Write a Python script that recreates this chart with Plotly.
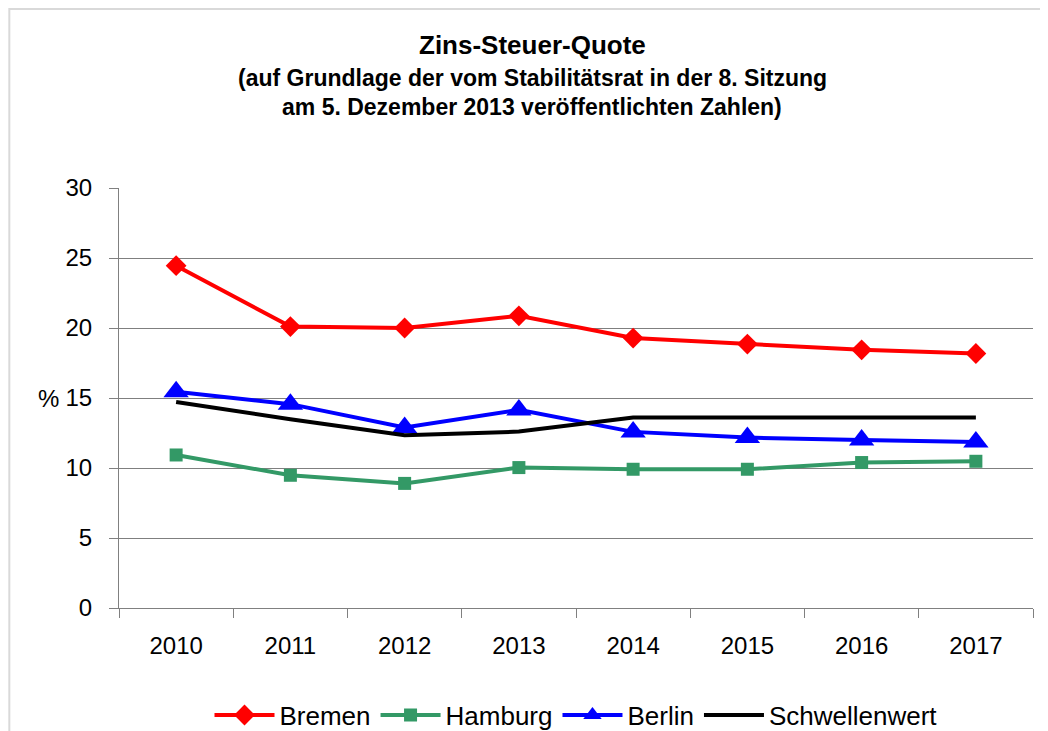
import plotly.graph_objects as go

years = ["2010", "2011", "2012", "2013", "2014", "2015", "2016", "2017"]
bremen = [24.45, 20.1, 20.0, 20.87, 19.28, 18.85, 18.44, 18.18]
hamburg = [10.93, 9.48, 8.9, 10.03, 9.91, 9.91, 10.39, 10.48]
berlin = [15.44, 14.56, 12.89, 14.15, 12.58, 12.17, 12.0, 11.86]
schwelle = [14.72, 13.48, 12.34, 12.6, 13.6, 13.6, 13.6, 13.6]
y_ticks = [0, 5, 10, 15, 20, 25, 30]

title_main = "Zins-Steuer-Quote"
title_sub1 = "(auf Grundlage der vom Stabilitätsrat in der 8. Sitzung"
title_sub2 = "am 5. Dezember 2013 veröffentlichten Zahlen)"

FONT = "Liberation Sans, Arial, sans-serif"

fig = go.Figure()
fig.add_trace(go.Scatter(x=years, y=bremen, name="Bremen", mode="lines+markers",
                         line=dict(color="#FF0000", width=4),
                         marker=dict(symbol="diamond", size=16, color="#FF0000")))
fig.add_trace(go.Scatter(x=years, y=hamburg, name="Hamburg", mode="lines+markers",
                         line=dict(color="#339966", width=4),
                         marker=dict(symbol="square", size=13, color="#339966")))
fig.add_trace(go.Scatter(x=years, y=berlin, name="Berlin", mode="lines+markers",
                         line=dict(color="#0000FF", width=4),
                         marker=dict(symbol="triangle-up", size=22, color="#0000FF")))
fig.add_trace(go.Scatter(x=years, y=schwelle, name="Schwellenwert", mode="lines",
                         line=dict(color="#000000", width=4)))

fig.update_layout(
    width=1040, height=723,
    margin=dict(l=111, r=15, t=180, b=123, autoexpand=False),
    paper_bgcolor="white", plot_bgcolor="white",
    font=dict(family=FONT, size=24, color="black"),
    showlegend=True,
    legend=dict(orientation="h", x=0.5, xanchor="center", y=-0.255, yanchor="middle",
                font=dict(family=FONT, size=26), itemwidth=60, tracegroupgap=0,
                traceorder="normal"),
    xaxis=dict(type="category", range=[-0.5, 7.5], tickson="boundaries",
               ticks="outside", ticklen=9, tickcolor="#808080", tickwidth=1,
               showline=True, linecolor="#808080", linewidth=1,
               showgrid=False, zeroline=False, ticklabelstandoff=16,
               tickfont=dict(family=FONT, size=24)),
    yaxis=dict(range=[0, 30], tickvals=y_ticks, ticks="outside", ticklen=9,
               tickcolor="#808080", tickwidth=1,
               showline=True, linecolor="#808080", linewidth=1,
               showgrid=True, gridcolor="#7f7f7f", gridwidth=1,
               zeroline=False, ticklabelstandoff=12,
               tickfont=dict(family=FONT, size=24)),
)

for txt, yp, sz in [(title_main, 1.3405, 26), (title_sub1, 1.2619, 23), (title_sub2, 1.1929, 23)]:
    fig.add_annotation(text="<b>" + txt + "</b>", xref="paper", yref="paper",
                       x=0.4519, y=yp, xanchor="center", yanchor="middle",
                       showarrow=False, font=dict(family=FONT, size=sz, color="black"))

fig.add_annotation(text="%", xref="paper", yref="y", x=-0.064, y=15,
                   xanchor="right", yanchor="middle", showarrow=False,
                   font=dict(family=FONT, size=24))

fig.add_shape(type="rect", xref="paper", yref="paper",
              x0=-0.12, y0=-0.6, x1=1.2, y1=1.426,
              line=dict(color="#d9d9d9", width=2), layer="below")

fig.write_html("out.html")
